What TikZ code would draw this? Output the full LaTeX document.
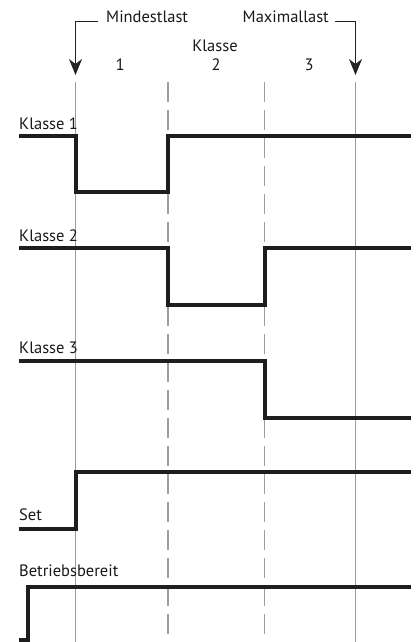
\documentclass[tikz,border=0pt]{standalone}
\usepackage{fontspec}
\setmainfont{PT Sans}
\usetikzlibrary{arrows.meta}
\definecolor{sig}{HTML}{1E1E1E}
\definecolor{grid}{HTML}{9C9C9C}
\definecolor{ann}{HTML}{222222}
\begin{document}
\begin{tikzpicture}[x=1pt,y=-1pt,
  lbl/.style={inner sep=0pt,anchor=base west,font=\fontsize{16.5}{18}\selectfont,text=black!90},
  ctr/.style={inner sep=0pt,anchor=base,font=\fontsize{16.5}{18}\selectfont,text=black!90},
  signal/.style={line width=4pt,color=sig,line join=miter},
  solidgrid/.style={line width=1.6pt,color=grid},
  dashgrid/.style={line width=1.6pt,color=grid,dash pattern=on 20pt off 8pt},
  pointer/.style={line width=1.1pt,color=ann,-{Stealth[length=16pt,width=13pt,inset=5pt]}}]
\useasboundingbox (0,0) rectangle (416,642);
% grid lines
\coordinate (g1t) at (75.5,82); \coordinate (g1b) at (75.5,642);
\coordinate (g2t) at (168,82); \coordinate (g2b) at (168,642);
\coordinate (g3t) at (264.5,82); \coordinate (g3b) at (264.5,642);
\coordinate (g4t) at (355.5,82); \coordinate (g4b) at (355.5,642);
\draw[solidgrid] (g1t) -- (g1b);
\draw[solidgrid] (g4t) -- (g4b);
\draw[dashgrid] (g2t) -- (g2b);
\draw[dashgrid] (g3t) -- (g3b);
% top annotations
\node[lbl] (mind) at (106,22.5) {Mindestlast};
\node[ctr, anchor=base east] (maxi) at (329,22.5) {Maximallast};
\coordinate (mindc) at (75.5,21.5);
\coordinate (mindend) at (98,21.5);
\coordinate (maxic) at (355.5,21.5);
\coordinate (maxiend) at (335,21.5);
\coordinate (mindtip) at (75.5,75);
\coordinate (maxitip) at (355.5,75);
\draw[line width=1.1pt,color=ann] (mindend) -- (mindc);
\draw[pointer] (mindc) -- (mindtip);
\draw[line width=1.1pt,color=ann] (maxiend) -- (maxic);
\draw[pointer] (maxic) -- (maxitip);
\node[ctr] (klasse) at (215,51.5) {Klasse};
\node[ctr] (n1) at (120,70.5) {1};
\node[ctr] (n2) at (216,70.5) {2};
\node[ctr] (n3) at (309,70.5) {3};
% Klasse 1
\node[lbl] (k1) at (19,129) {Klasse 1};
\draw[signal] (19,136) -- (75.5,136) -- (75.5,192) -- (168,192) -- (168,136) -- (411,136);
% Klasse 2
\node[lbl] (k2) at (19,241) {Klasse 2};
\draw[signal] (19,248) -- (168,248) -- (168,305) -- (264.5,305) -- (264.5,248) -- (411,248);
% Klasse 3
\node[lbl] (k3) at (19,353.5) {Klasse 3};
\draw[signal] (19,361) -- (264.5,361) -- (264.5,418) -- (411,418);
% Set
\node[lbl] (set) at (19,520.5) {Set};
\draw[signal] (19,529) -- (75.5,529) -- (75.5,472) -- (411,472);
% Betriebsbereit
\node[lbl] (bb) at (19,576) {Betriebsbereit};
\draw[signal] (19,640) -- (27.5,640) -- (27.5,587) -- (411,587);
\end{tikzpicture}
\end{document}
